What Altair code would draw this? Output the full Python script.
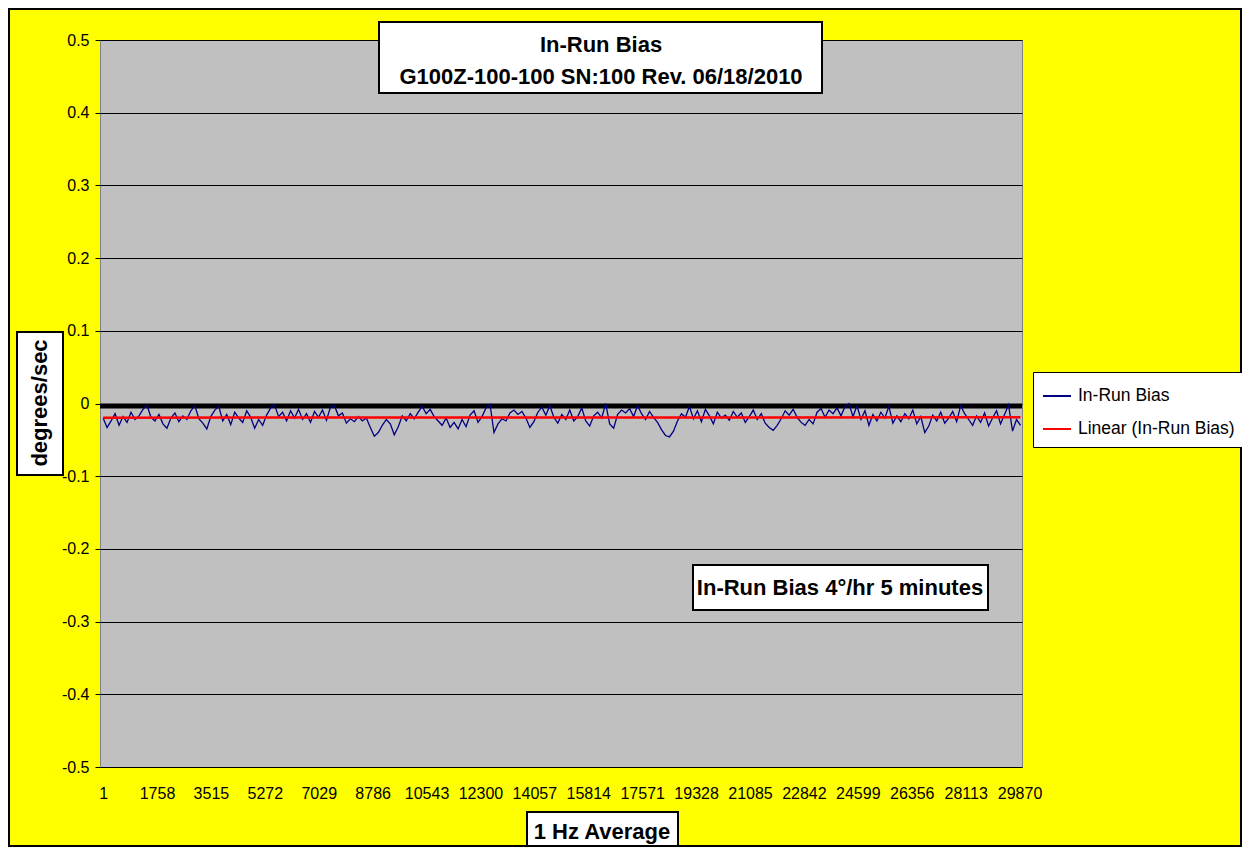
import altair as alt
import pandas as pd

FONT = "Liberation Sans"

# ---- data ----
bias_part1 = [-0.020,-0.033,-0.024,-0.014,-0.030,-0.018,-0.026,-0.012,-0.022,-0.017,-0.008,-0.002,-0.019,-0.024,-0.015,-0.028,-0.034,-0.020,-0.013,-0.025,-0.017,-0.022,-0.010,-0.003,-0.021,-0.027,-0.035,-0.018,-0.009,-0.004,-0.024,-0.015,-0.029,-0.012,-0.020,-0.026,-0.010,-0.019,-0.034,-0.022]
bias_part2 = [-0.030,-0.016,-0.006,-0.002,-0.018,-0.012,-0.024,-0.010,-0.020,-0.008,-0.022,-0.014,-0.026,-0.011,-0.019,-0.009,-0.023,-0.005,-0.003,-0.017,-0.013,-0.027,-0.021,-0.025,-0.018,-0.024,-0.020,-0.033,-0.045,-0.040,-0.030,-0.022,-0.028,-0.043,-0.032,-0.017,-0.024,-0.014,-0.021,-0.012]
bias_part3 = [-0.004,-0.014,-0.008,-0.018,-0.024,-0.030,-0.020,-0.033,-0.026,-0.035,-0.022,-0.032,-0.016,-0.010,-0.026,-0.018,-0.006,-0.001,-0.040,-0.028,-0.021,-0.024,-0.013,-0.009,-0.015,-0.011,-0.020,-0.033,-0.025,-0.012,-0.005,-0.016,-0.003,-0.019,-0.027,-0.015,-0.022,-0.009,-0.024,-0.018]
bias_part4 = [-0.006,-0.024,-0.031,-0.017,-0.012,-0.020,0.000,-0.028,-0.034,-0.015,-0.009,-0.013,-0.007,-0.018,-0.003,-0.014,-0.022,-0.011,-0.019,-0.026,-0.036,-0.044,-0.046,-0.038,-0.024,-0.014,-0.019,-0.004,-0.021,-0.010,-0.025,-0.008,-0.017,-0.028,-0.012,-0.020,-0.016,-0.023,-0.011,-0.019]
bias_part5 = [-0.013,-0.026,-0.018,-0.009,-0.022,-0.014,-0.027,-0.033,-0.037,-0.030,-0.021,-0.010,-0.016,-0.008,-0.019,-0.026,-0.030,-0.022,-0.028,-0.012,-0.007,-0.019,-0.009,-0.014,-0.006,-0.017,-0.004,0.000,-0.018,-0.003,-0.022,-0.010,-0.030,-0.015,-0.024,-0.012,-0.020,-0.004,-0.027,-0.017]
bias_part6 = [-0.025,-0.014,-0.021,-0.009,-0.028,-0.018,-0.040,-0.031,-0.016,-0.024,-0.012,-0.027,-0.020,-0.011,-0.025,-0.003,-0.014,-0.022,-0.030,-0.017,-0.026,-0.013,-0.031,-0.020,-0.010,-0.028,-0.015,-0.002,-0.038,-0.022,-0.030]

bias = bias_part1 + bias_part2 + bias_part3 + bias_part4 + bias_part5 + bias_part6
sample_step = 130
samples = [1 + sample_step * i for i in range(len(bias))]

x_tick_values = [1, 1758, 3515, 5272, 7029, 8786, 10543, 12300, 14057, 15814,
                 17571, 19328, 21085, 22842, 24599, 26356, 28113, 29870]
y_tick_values = [-0.5, -0.4, -0.3, -0.2, -0.1, 0.0, 0.1, 0.2, 0.3, 0.4, 0.5]

series_names = ["In-Run Bias", "Linear (In-Run Bias)"]
series_colors = ["#000080", "#FF0000"]

title_line1 = "In-Run Bias"
title_line2 = "G100Z-100-100 SN:100 Rev. 06/18/2010"
y_title = "degrees/sec"
x_title = "1 Hz Average"
note_text = "In-Run Bias 4°/hr 5 minutes"

df = pd.DataFrame({"sample": samples, "bias": bias})

x_scale = alt.Scale(domain=[-100, 29950], nice=False, zero=False)
y_scale = alt.Scale(domain=[-0.5, 0.5], nice=False)
color_scale = alt.Scale(domain=series_names, range=series_colors)

x_axis = alt.Axis(values=x_tick_values, title=None, ticks=False, domain=False, grid=False,
                  labelFont=FONT, labelFontSize=16, labelColor="black", labelPadding=18,
                  labelFlush=False, labelOverlap=False, format="d")
y_axis = alt.Axis(values=y_tick_values, title=None, grid=True, gridColor="black", gridWidth=1,
                  gridOpacity=1, ticks=True, tickSize=5, tickColor="black", domain=False,
                  labelFont=FONT, labelFontSize=16, labelColor="black", labelPadding=6,
                  labelExpr="datum.value < 0 ? '-' + format(-datum.value, '.1~f') : format(datum.value, '.1~f')")

legend = alt.Legend(title=None, orient="none", legendX=933, legendY=332,
                    symbolType="stroke", symbolSize=784, symbolStrokeWidth=2,
                    labelFont=FONT, labelFontSize=17.5, labelColor="black", labelOffset=6,
                    rowPadding=9, padding=9, fillColor="white", strokeColor="black")

base = alt.Chart(df)

zero_line = alt.Chart(pd.DataFrame({"bias": [0.0]})).mark_rule(
    color="black", strokeWidth=5, yOffset=2.5
).encode(y=alt.Y("bias:Q", scale=y_scale, axis=y_axis))

bias_line = base.transform_calculate(series="'In-Run Bias'").mark_line(
    strokeWidth=1.3
).encode(
    x=alt.X("sample:Q", scale=x_scale, axis=x_axis),
    y=alt.Y("bias:Q", scale=y_scale, axis=y_axis),
    color=alt.Color("series:N", scale=color_scale, legend=legend),
)

trend_line = base.transform_regression("sample", "bias").transform_calculate(
    series="'Linear (In-Run Bias)'"
).mark_line(strokeWidth=2.5).encode(
    x=alt.X("sample:Q", scale=x_scale, axis=x_axis),
    y=alt.Y("bias:Q", scale=y_scale, axis=y_axis),
    color=alt.Color("series:N", scale=color_scale, legend=legend),
)

one = pd.DataFrame({"k": [0]})

def box(x1, x2, y1, y2):
    return alt.Chart(one).mark_rect(fill="white", stroke="black", strokeWidth=2).encode(
        x=alt.value(x1), x2=alt.value(x2), y=alt.value(y1), y2=alt.value(y2))

def label(txt, x, y, size=22, angle=0):
    return alt.Chart(one).mark_text(font=FONT, fontSize=size, fontWeight="bold", color="black",
                                    align="center", baseline="middle", angle=angle).encode(
        x=alt.value(x), y=alt.value(y), text=alt.value(txt))

outer = alt.Chart(one).mark_rect(fill="transparent", stroke="black", strokeWidth=2).encode(
    x=alt.value(-91), x2=alt.value(1141), y=alt.value(-31), y2=alt.value(806))

chart = alt.layer(
    zero_line, bias_line, trend_line,
    box(279, 722, -18, 53), label(title_line1, 501, 5), label(title_line2, 501, 37),
    box(-83, -37, 292, 435), label(y_title, -60, 363, angle=270),
    box(427, 578, 772, 812), label(x_title, 502, 792),
    box(593, 888, 525, 570), label(note_text, 740, 548),
    outer,
).properties(
    width=922, height=727,
    autosize=alt.AutoSizeParams(type="none"),
    padding={"left": 92, "top": 32, "right": 220, "bottom": 80},
    background="#FFFF00",
).configure_view(fill="#C0C0C0", stroke="#808080", strokeWidth=1)

chart.save("out.html", embed_options={"renderer": "svg", "actions": False})
